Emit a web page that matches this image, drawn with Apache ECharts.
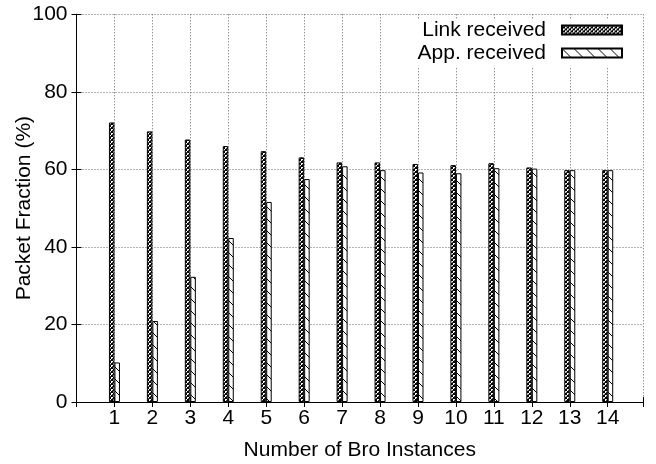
<!DOCTYPE html>
<html>
<head>
<meta charset="utf-8">
<script src="https://cdn.jsdelivr.net/npm/echarts@6/dist/echarts.min.js"></script>
<style>
  html, body { margin: 0; padding: 0; background: #fff; }
  #chart { width: 656px; height: 464px; }
</style>
</head>
<body>
<div id="chart"></div>
<script>
// Number of Bro instances on the x axis
const instances = [1, 2, 3, 4, 5, 6, 7, 8, 9, 10, 11, 12, 13, 14];
// Packet fraction (%) seen at the link and delivered to the application
const linkReceived = [72.1, 69.8, 67.7, 66.0, 64.7, 63.1, 61.8, 61.8, 61.4, 61.1, 61.6, 60.5, 59.8, 59.8];
const appReceived  = [10.2, 20.9, 32.3, 42.3, 51.6, 57.5, 60.8, 59.8, 59.2, 59.0, 60.3, 60.2, 59.8, 59.8];
const seriesNames = ['Link received', 'App. received'];

const FONT = "'Liberation Sans', Arial, Helvetica, sans-serif";
const FS = 21;

// dense cross-hatch fill
function crossHatch() {
  const c = document.createElement('canvas');
  c.width = 4; c.height = 4;
  const g = c.getContext('2d');
  g.fillStyle = '#fff';
  g.fillRect(0, 0, 4, 4);
  g.fillStyle = '#000';
  for (let i = 0; i < 4; i++) {
    g.fillRect(i, i, 1, 1);
    g.fillRect(3 - i, i, 1, 1);
  }
  g.fillStyle = '#444';
  g.fillRect(2, 0, 1, 1);
  g.fillRect(0, 2, 1, 1);
  return c;
}

// sparse back-slash hatch fill
function backHatch() {
  const s = 12;
  const c = document.createElement('canvas');
  c.width = s; c.height = s;
  const g = c.getContext('2d');
  g.fillStyle = '#fff';
  g.fillRect(0, 0, s, s);
  g.strokeStyle = '#000';
  g.lineWidth = 1;
  g.beginPath();
  g.moveTo(-2, -2); g.lineTo(s + 2, s + 2);
  g.moveTo(-2 - s, -2); g.lineTo(2, s + 2);
  g.moveTo(s - 2, -2); g.lineTo(2 * s + 2, s + 2);
  g.stroke();
  return c;
}

const chart = echarts.init(document.getElementById('chart'), null, { renderer: 'canvas' });

const frameLine = { show: true, lineStyle: { color: '#000', width: 1 } };
const innerTick = { show: true, inside: true, length: 5, lineStyle: { color: '#000', width: 1 } };
const gridDots = { show: true, lineStyle: { color: '#666', width: 1, type: [1, 2] } };
const X_MAX = 14.93;

chart.setOption({
  animation: false,
  backgroundColor: '#fff',
  grid: { left: 76.5, right: 13, top: 14.3, bottom: 62, containLabel: false, outerBoundsMode: 'none' },
  legend: {
    orient: 'vertical',
    right: 28,
    top: 19.5,
    align: 'right',
    icon: 'rect',
    itemWidth: 60,
    itemHeight: 9,
    itemGap: 2,
    selectedMode: false,
    backgroundColor: '#fff',
    padding: [0, 5, 4, 5],
    data: seriesNames,
    textStyle: { fontFamily: FONT, fontSize: FS, lineHeight: 16, color: '#000', padding: [0, 11, 0, 0] }
  },
  xAxis: [
    {
      type: 'value', min: 0, max: X_MAX, interval: 1, position: 'bottom',
      axisLine: frameLine, axisTick: innerTick, splitLine: gridDots,
      axisLabel: {
        color: '#000', fontFamily: FONT, fontSize: FS, margin: 6,
        formatter: v => (Number.isInteger(v) && v >= 1 && v <= 14) ? String(v) : ''
      },
      name: 'Number of Bro Instances', nameLocation: 'middle', nameGap: 38, nameMoveOverlap: false,
      nameTextStyle: { color: '#000', fontFamily: FONT, fontSize: FS }
    },
    {
      type: 'value', min: 0, max: X_MAX, interval: 1, position: 'top',
      axisLine: frameLine, axisTick: innerTick, axisLabel: { show: false }, splitLine: { show: false }
    }
  ],
  yAxis: [
    {
      type: 'value', min: 0, max: 100, interval: 20, position: 'left',
      axisLine: frameLine, axisTick: innerTick, splitLine: gridDots,
      axisLabel: { color: '#000', fontFamily: FONT, fontSize: FS, margin: 9 },
      name: 'Packet Fraction (%)', nameLocation: 'middle', nameGap: 42, nameRotate: 90, nameMoveOverlap: false,
      nameTextStyle: { color: '#000', fontFamily: FONT, fontSize: FS }
    },
    {
      type: 'value', min: 0, max: 100, interval: 20, position: 'right',
      axisLine: frameLine, axisTick: innerTick, axisLabel: { show: false }, splitLine: { show: false }
    }
  ],
  series: [
    {
      name: seriesNames[0], type: 'bar', xAxisIndex: 0, yAxisIndex: 0,
      barWidth: 5.5, barGap: '0%',
      data: instances.map((x, i) => [x, linkReceived[i]]),
      itemStyle: { color: { image: crossHatch(), repeat: 'repeat' }, borderColor: '#000', borderWidth: 1 },
      emphasis: { disabled: true }
    },
    {
      name: seriesNames[1], type: 'bar', xAxisIndex: 0, yAxisIndex: 0,
      barWidth: 5.5, barGap: '0%',
      data: instances.map((x, i) => [x, appReceived[i]]),
      itemStyle: { color: { image: backHatch(), repeat: 'repeat' }, borderColor: '#000', borderWidth: 1 },
      emphasis: { disabled: true }
    }
  ]
});
</script>
</body>
</html>
